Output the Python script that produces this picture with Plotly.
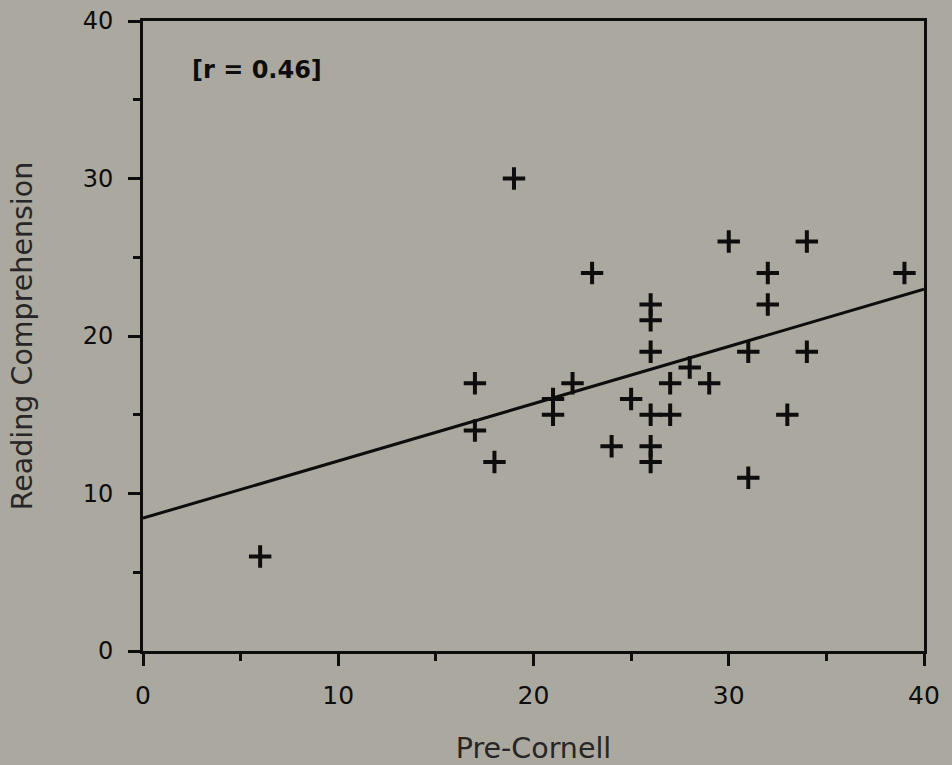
import numpy as np
import plotly.graph_objects as go

# Data
pre_cornell = [6, 17, 17, 18, 19, 21, 21, 22, 23, 24, 25, 26, 26, 26, 26, 26, 26,
               27, 27, 28, 29, 30, 31, 31, 32, 32, 33, 34, 34, 39]
reading_comp = [6, 17, 14, 12, 30, 16, 15, 17, 24, 13, 16, 22, 21, 19, 15, 13, 12,
                17, 15, 18, 17, 26, 19, 11, 24, 22, 15, 26, 19, 24]
tick_vals = [0, 10, 20, 30, 40]
tick_text = ["0", "10", "20", "30", "40"]
r_label = "[r = 0.46]"
x_title = "Pre-Cornell"
y_title = "Reading Comprehension"

BG = "#aba89f"
INK = "#0d0d0d"
FONT = "DejaVu Sans"

slope, intercept = np.polyfit(pre_cornell, reading_comp, 1)
fit_x = np.array([0, 40])
fit_y = intercept + slope * fit_x

fig = go.Figure()
fig.add_trace(go.Scatter(
    x=fit_x, y=fit_y, mode="lines",
    line=dict(color=INK, width=3), showlegend=False, hoverinfo="skip"))
fig.add_trace(go.Scatter(
    x=pre_cornell, y=reading_comp, mode="markers",
    marker=dict(symbol="cross-thin", size=16, color=INK,
                line=dict(color=INK, width=4)),
    showlegend=False, cliponaxis=False))

axis_common = dict(
    range=[0, 40], tickmode="array", tickvals=tick_vals, ticktext=tick_text,
    ticks="outside", ticklen=12, tickwidth=2.5, tickcolor=INK,
    showline=True, linecolor=INK, linewidth=3, mirror=True,
    showgrid=False, zeroline=False,
    minor=dict(tickmode="array", tickvals=[5, 15, 25, 35], ticks="outside",
               ticklen=7, tickwidth=2.5, tickcolor=INK, showgrid=False),
)

fig.update_xaxes(**axis_common,
                 tickfont=dict(family=FONT, size=25, color=INK),
                 ticklabelstandoff=8,
                 title=dict(text=x_title, standoff=30,
                            font=dict(family=FONT, size=28.5, color="#262626")))
fig.update_yaxes(**axis_common,
                 tickfont=dict(family=FONT, size=24, color=INK),
                 ticklabelstandoff=10,
                 title=dict(text=y_title, standoff=42,
                            font=dict(family=FONT, size=28.5, color="#262626")))

fig.add_annotation(
    x=0.06, y=0.922, xref="paper", yref="paper", xanchor="left", yanchor="middle",
    text="<b>" + r_label + "</b>", showarrow=False,
    font=dict(family=FONT, size=24, color=INK))

fig.update_layout(
    width=952, height=765,
    margin=dict(l=143, r=28, t=21, b=114, autoexpand=False),
    paper_bgcolor=BG, plot_bgcolor=BG,
)

fig.write_html("out.html")
